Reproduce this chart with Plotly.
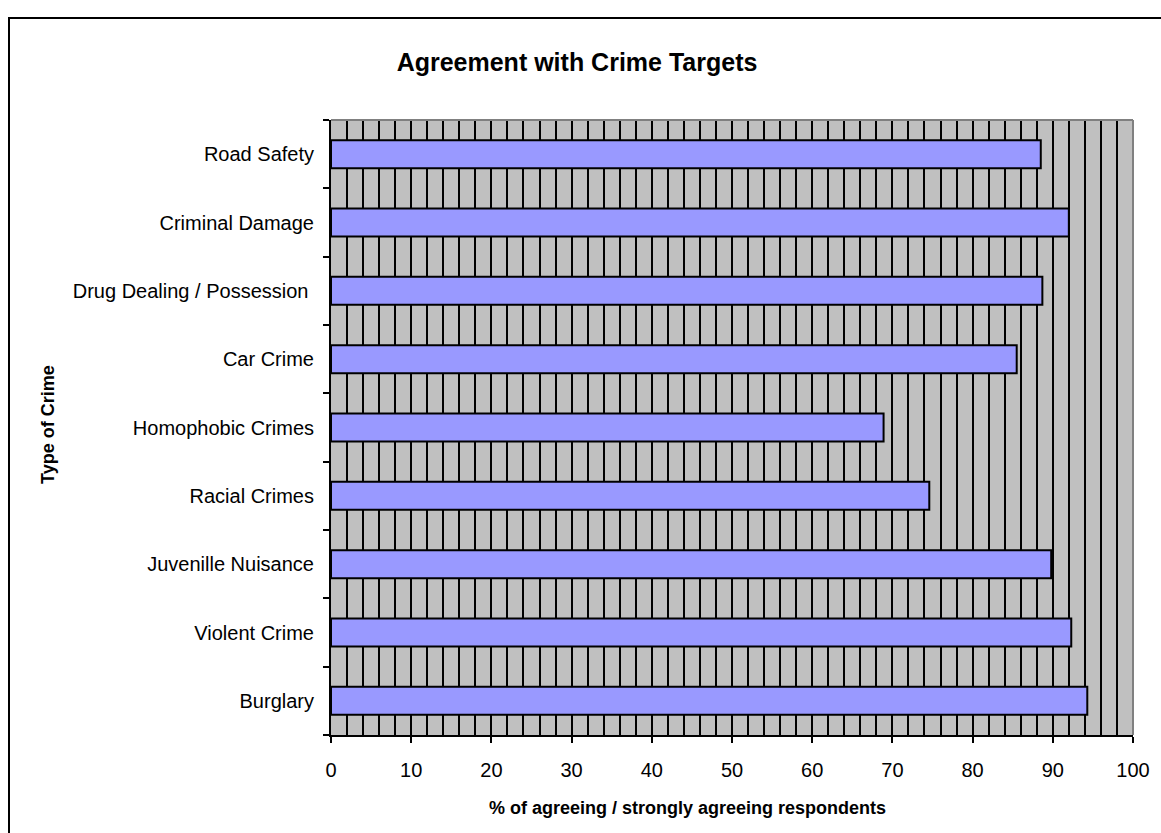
import plotly.graph_objects as go

# data (bottom to top)
crime_types = [
    "Burglary",
    "Violent Crime",
    "Juvenille Nuisance",
    "Racial Crimes",
    "Homophobic Crimes",
    "Car Crime",
    "Drug Dealing / Possession ",
    "Criminal Damage",
    "Road Safety",
]
pct_agree = [94.3, 92.3, 89.8, 74.6, 68.9, 85.5, 88.7, 92.0, 88.5]

x_ticks = list(range(0, 101, 10))

W, H = 1161, 833
L, R, T, B = 331, 28, 120, 98
pw, ph = W - L - R, H - T - B

def px_x(p):
    return (p - L) / pw

def px_y(p):
    return (H - B - p) / ph

font_family = "Liberation Sans, Arial, sans-serif"

fig = go.Figure()

fig.add_trace(go.Bar(
    x=pct_agree,
    y=crime_types,
    orientation="h",
    marker=dict(color="#9999FF", line=dict(color="black", width=2)),
    hoverinfo="x+y",
))

fig.update_layout(
    width=W,
    height=H,
    margin=dict(l=L, r=R, t=T, b=B),
    paper_bgcolor="white",
    plot_bgcolor="#C0C0C0",
    showlegend=False,
    bargap=0.59,
    font=dict(family=font_family, size=20, color="black"),
    title=dict(
        text="<b>Agreement with Crime Targets</b>",
        font=dict(size=25),
        xref="container", x=577 / W, xanchor="center",
        yref="container", y=1 - 62 / H, yanchor="middle",
    ),
    xaxis=dict(
        range=[0, 100],
        tickvals=x_ticks,
        ticks="outside",
        ticklen=6,
        tickcolor="black",
        tickwidth=1.5,
        showline=True,
        linecolor="black",
        linewidth=2,
        showgrid=True,
        gridcolor="black",
        gridwidth=1.5,
        minor=dict(dtick=2, showgrid=True, gridcolor="black", gridwidth=1.5),
        zeroline=False,
        ticklabelstandoff=10,
        fixedrange=True,
    ),
    yaxis=dict(
        type="category",
        categoryorder="array",
        categoryarray=crime_types,
        ticks="outside",
        tickson="boundaries",
        ticklen=6,
        tickcolor="black",
        tickwidth=1.5,
        showline=True,
        linecolor="black",
        linewidth=2,
        showgrid=False,
        ticklabelstandoff=11,
        fixedrange=True,
    ),
    annotations=[
        dict(
            text="<b>% of agreeing / strongly agreeing respondents</b>",
            xref="paper", yref="paper",
            x=px_x(687), y=px_y(808),
            xanchor="center", yanchor="middle",
            showarrow=False, font=dict(size=18),
        ),
        dict(
            text="<b>Type of Crime</b>",
            xref="paper", yref="paper",
            x=px_x(48), y=px_y(425),
            xanchor="center", yanchor="middle",
            textangle=-90,
            showarrow=False, font=dict(size=18),
        ),
    ],
    shapes=[
        # plot area border (top / right, grey)
        dict(type="line", xref="paper", yref="paper", x0=0, x1=1, y0=1, y1=1,
             line=dict(color="#808080", width=2)),
        dict(type="line", xref="paper", yref="paper", x0=1, x1=1, y0=0, y1=1,
             line=dict(color="#808080", width=2)),
        # outer chart frame
        dict(type="rect", xref="paper", yref="paper",
             x0=px_x(9), x1=px_x(W + 20), y0=px_y(H + 20), y1=px_y(18),
             line=dict(color="black", width=2), layer="below"),
    ],
)

# the page's default body margin would shift the chart by 8px
fig.write_html("out.html", config={"displayModeBar": False},
               post_script="document.body.style.margin='0';")
